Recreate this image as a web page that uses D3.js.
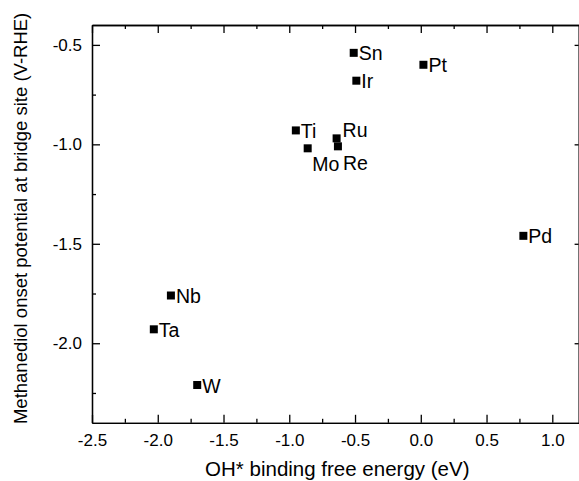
<!DOCTYPE html>
<html>
<head>
<meta charset="utf-8">
<script src="https://cdnjs.cloudflare.com/ajax/libs/d3/7.8.5/d3.min.js"></script>
<style>
  html, body { margin: 0; padding: 0; background: #fff; }
  svg { display: block; font-family: "Liberation Sans", Arial, sans-serif; }
</style>
</head>
<body>
<svg id="chart" width="579" height="481"></svg>
<script>
// metals and their values
const elements = ["Sn", "Pt", "Ir", "Ti", "Ru", "Mo", "Re", "Pd", "Nb", "Ta", "W"];
const ohBinding = [-0.51, 0.02, -0.49, -0.95, -0.64, -0.86, -0.63, 0.78, -1.90, -2.03, -1.70];
const onsetPotential = [-0.54, -0.60, -0.68, -0.93, -0.97, -1.02, -1.01, -1.46, -1.76, -1.93, -2.21];

const xTicks = [-2.5, -2.0, -1.5, -1.0, -0.5, 0.0, 0.5, 1.0];
const xMinor = [-2.25, -1.75, -1.25, -0.75, -0.25, 0.25, 0.75];
const yTicks = [-0.5, -1.0, -1.5, -2.0];
const yMinor = [-0.75, -1.25, -1.75, -2.25];

const xTitle = "OH* binding free energy (eV)";
const yTitle = "Methanediol onset potential at bridge site (V-RHE)";

// labels that do not sit to the right of their marker
const labelShift = { Ru: [6, -1], Mo: [4.5, 23], Re: [5, 24] };

var margin = {top: 25, left: 92},
    width = 486.6,
    height = 397.8;

var x = d3.scaleLinear().domain([-2.5, 1.2]).range([0, width]);
var y = d3.scaleLinear().domain([-2.4, -0.4]).range([height, 0]);

var svg = d3.select("#chart")
  .append("g")
    .attr("transform", "translate(" + margin.left + "," + margin.top + ")");

function styleAxis(g) {
  g.selectAll("path.domain").attr("stroke", "#000").attr("stroke-width", 1.3);
  g.selectAll(".tick line").attr("stroke", "#000").attr("stroke-width", 1.3);
  g.selectAll("text").attr("fill", "#000").style("font-size", "17px")
    .style("font-family", "'Liberation Sans', Arial, sans-serif");
}

// bottom axis, ticks pointing in
svg.append("g")
    .attr("transform", "translate(0," + height + ")")
    .call(d3.axisBottom(x).tickValues(xTicks).tickSizeInner(-8).tickSizeOuter(0)
      .tickPadding(11.5).tickFormat(d => d.toFixed(1)))
    .call(styleAxis);
svg.append("g")
    .attr("transform", "translate(0," + height + ")")
    .call(d3.axisBottom(x).tickValues(xMinor).tickSizeInner(-4).tickSizeOuter(0).tickFormat(""))
    .call(styleAxis);

// top axis
svg.append("g")
    .call(d3.axisTop(x).tickValues(xTicks).tickSizeInner(-8).tickSizeOuter(0).tickFormat(""))
    .call(styleAxis);
svg.append("g")
    .call(d3.axisTop(x).tickValues(xMinor).tickSizeInner(-4).tickSizeOuter(0).tickFormat(""))
    .call(styleAxis);

// left axis
svg.append("g")
    .call(d3.axisLeft(y).tickValues(yTicks).tickSizeInner(-8).tickSizeOuter(0)
      .tickPadding(10).tickFormat(d => d.toFixed(1)))
    .call(styleAxis);
svg.append("g")
    .call(d3.axisLeft(y).tickValues(yMinor).tickSizeInner(-4).tickSizeOuter(0).tickFormat(""))
    .call(styleAxis);

// right axis
svg.append("g")
    .attr("transform", "translate(" + width + ",0)")
    .call(d3.axisRight(y).tickValues(yTicks).tickSizeInner(-4).tickSizeOuter(0).tickFormat(""))
    .call(styleAxis);

var points = elements.map((name, i) => ({name: name, x: ohBinding[i], y: onsetPotential[i]}));

// square markers
svg.selectAll(".marker")
  .data(points)
  .enter().append("rect")
    .attr("class", "marker")
    .attr("x", d => x(d.x) - 4)
    .attr("y", d => y(d.y) - 4)
    .attr("width", 8)
    .attr("height", 8)
    .attr("fill", "#000");

svg.selectAll(".label")
  .data(points)
  .enter().append("text")
    .attr("class", "label")
    .attr("x", d => x(d.x) + (labelShift[d.name] ? labelShift[d.name][0] : 5))
    .attr("y", d => y(d.y) + (labelShift[d.name] ? labelShift[d.name][1] : 7.5))
    .style("font-size", "19.5px")
    .attr("fill", "#000")
    .text(d => d.name);

// axis titles
d3.select("#chart").append("text")
    .attr("x", margin.left + width / 2 + 2)
    .attr("y", 476)
    .attr("text-anchor", "middle")
    .style("font-size", "20.5px")
    .text(xTitle);

d3.select("#chart").append("text")
    .attr("transform", "translate(27,218.4) rotate(-90)")
    .attr("text-anchor", "middle")
    .style("font-size", "18.5px")
    .text(yTitle);
</script>
</body>
</html>
